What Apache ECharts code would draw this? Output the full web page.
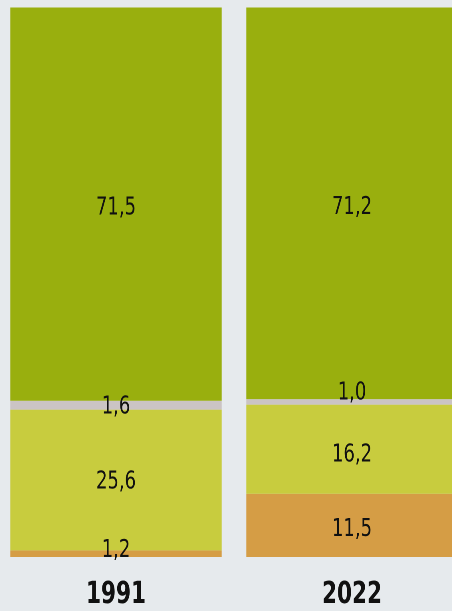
<!DOCTYPE html>
<html>
<head>
<meta charset="utf-8">
<script src="https://cdn.jsdelivr.net/npm/echarts@6/dist/echarts.min.js"></script>
<style>
html,body{margin:0;padding:0;background:#E6EAED;overflow:hidden;width:452px;height:611px;position:relative;}
#chart{position:absolute;top:0;left:-2.5px;width:590px;height:611px;transform:scaleX(0.8);transform-origin:0 0;}
</style>
</head>
<body>
<div id="chart"></div>
<script>
const years = ['1991', '2022'];
const seriesNames = ['Orange', 'Hellgrün', 'Grau', 'Olivgrün'];
const orangeValues = [1.2, 11.5];
const lightGreenValues = [25.6, 16.2];
const greyValues = [1.6, 1.0];
const oliveValues = [71.5, 71.2];

const colors = ['#D59D45', '#C8CC3E', '#CBC4C4', '#99AF0E'];
const labelOffsets = [[[0, -3], [0, 4]], [[0, 2], [0, 6]], [[0, 2], [0, -9]], [[0, 4], [0, 4]]];
const font = "'Liberation Sans Narrow', 'DejaVu Sans Condensed', sans-serif";

const chart = echarts.init(document.getElementById('chart'), null, { devicePixelRatio: 2 });
const allValues = [orangeValues, lightGreenValues, greyValues, oliveValues];

chart.setOption({
  backgroundColor: '#E6EAED',
  animation: false,
  grid: { left: 0, right: 0, top: 7, bottom: 54, containLabel: false },
  xAxis: {
    type: 'category',
    data: years,
    axisLine: { show: false },
    axisTick: { show: false },
    axisLabel: { fontFamily: font, fontWeight: 'bold', fontSize: 30, color: '#111', margin: 23 }
  },
  yAxis: { type: 'value', min: 0, max: 100, show: false, splitLine: { show: false } },
  series: allValues.map((vals, i) => ({
    name: seriesNames[i],
    type: 'bar',
    stack: 'total',
    barWidth: 264,
    itemStyle: { color: colors[i] },
    data: vals.map((v, j) => ({
      value: v,
      label: { offset: labelOffsets[i][j] }
    })),
    label: {
      show: true,
      position: 'inside',
      fontFamily: font,
      fontSize: 25,
      color: '#111',
      formatter: p => p.value.toFixed(1).replace('.', ',')
    }
  }))
});
</script>
</body>
</html>
